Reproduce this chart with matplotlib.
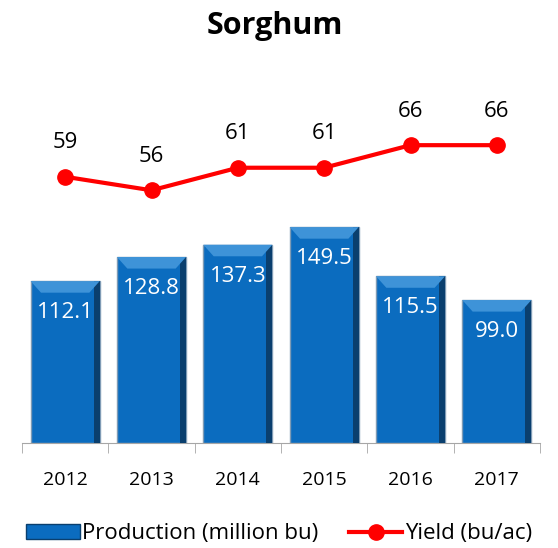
import matplotlib.pyplot as plt
from matplotlib.lines import Line2D
from matplotlib.patches import Patch

# Data
years = ['2012', '2013', '2014', '2015', '2016', '2017']
production = [112.1, 128.8, 137.3, 149.5, 115.5, 99.0]
yield_bu = [59, 56, 61, 61, 66, 66]

plt.rcParams['font.family'] = ['Open Sans', 'DejaVu Sans']

fig = plt.figure(figsize=(5.58, 5.48), dpi=100)
ax = fig.add_axes([22 / 558, 1 - 443 / 548, 518 / 558, 361 / 548])
ax2 = ax.twinx()

x = range(len(years))
w = 0.8

# Bars with a simple bevel look
ax.bar(x, production, width=w, color='#0b6cbf', edgecolor='#7f9bb5', linewidth=1, zorder=2)
ax.bar([i + w / 2 - 0.035 for i in x], production, width=0.07, color='#0a3f6e', zorder=3)
for i, v in zip(x, production):
    ax.fill([i - w / 2, i + w / 2, i + w / 2 - 0.12, i - w / 2 + 0.12],
            [v, v, v - 8, v - 8], color='#3e93d8', zorder=3, lw=0)
    ax.text(i, v - 22, f'{v:.1f}', ha='center', va='center', color='white',
            fontsize=16, zorder=4)

ax.set_ylim(0, 250)
ax.set_xlim(-0.5, len(years) - 0.5)

# Yield line on secondary axis
ax2.plot(x, yield_bu, color='#ff0000', lw=3, marker='o', markersize=11, zorder=5)
for i, v in zip(x, yield_bu):
    ax2.text(i, v + 7.5, str(v), ha='center', va='center', fontsize=16, color='black')
ax2.set_ylim(0, 80)

for a in (ax, ax2):
    for s in ('top', 'right', 'left'):
        a.spines[s].set_visible(False)
    a.set_yticks([])
ax2.spines['bottom'].set_visible(False)
ax.spines['bottom'].set_color('#a6a6a6')

ax.set_xticks(list(x))
ax.set_xticklabels(years, fontsize=14)
ax.tick_params(axis='x', which='major', length=0, pad=20)
ax.set_xticks([i - 0.5 for i in range(len(years) + 1)], minor=True)
ax.tick_params(axis='x', which='minor', length=7, color='#a6a6a6')

fig.text(0.493, 0.953, 'Sorghum', ha='center', va='center', fontsize=22, fontweight='bold')

handles = [Patch(facecolor='#0b6cbf', edgecolor='#0a3f6e'),
           Line2D([0], [0], color='#ff0000', lw=3, marker='o', markersize=11)]
fig.legend(handles, ['Production (million bu)', 'Yield (bu/ac)'], loc='lower center',
           bbox_to_anchor=(0.5, -0.03), ncol=2, frameon=False, fontsize=16,
           handlelength=2.4, handletextpad=0.1, columnspacing=1.4)

fig.savefig('out.png', dpi=100)
